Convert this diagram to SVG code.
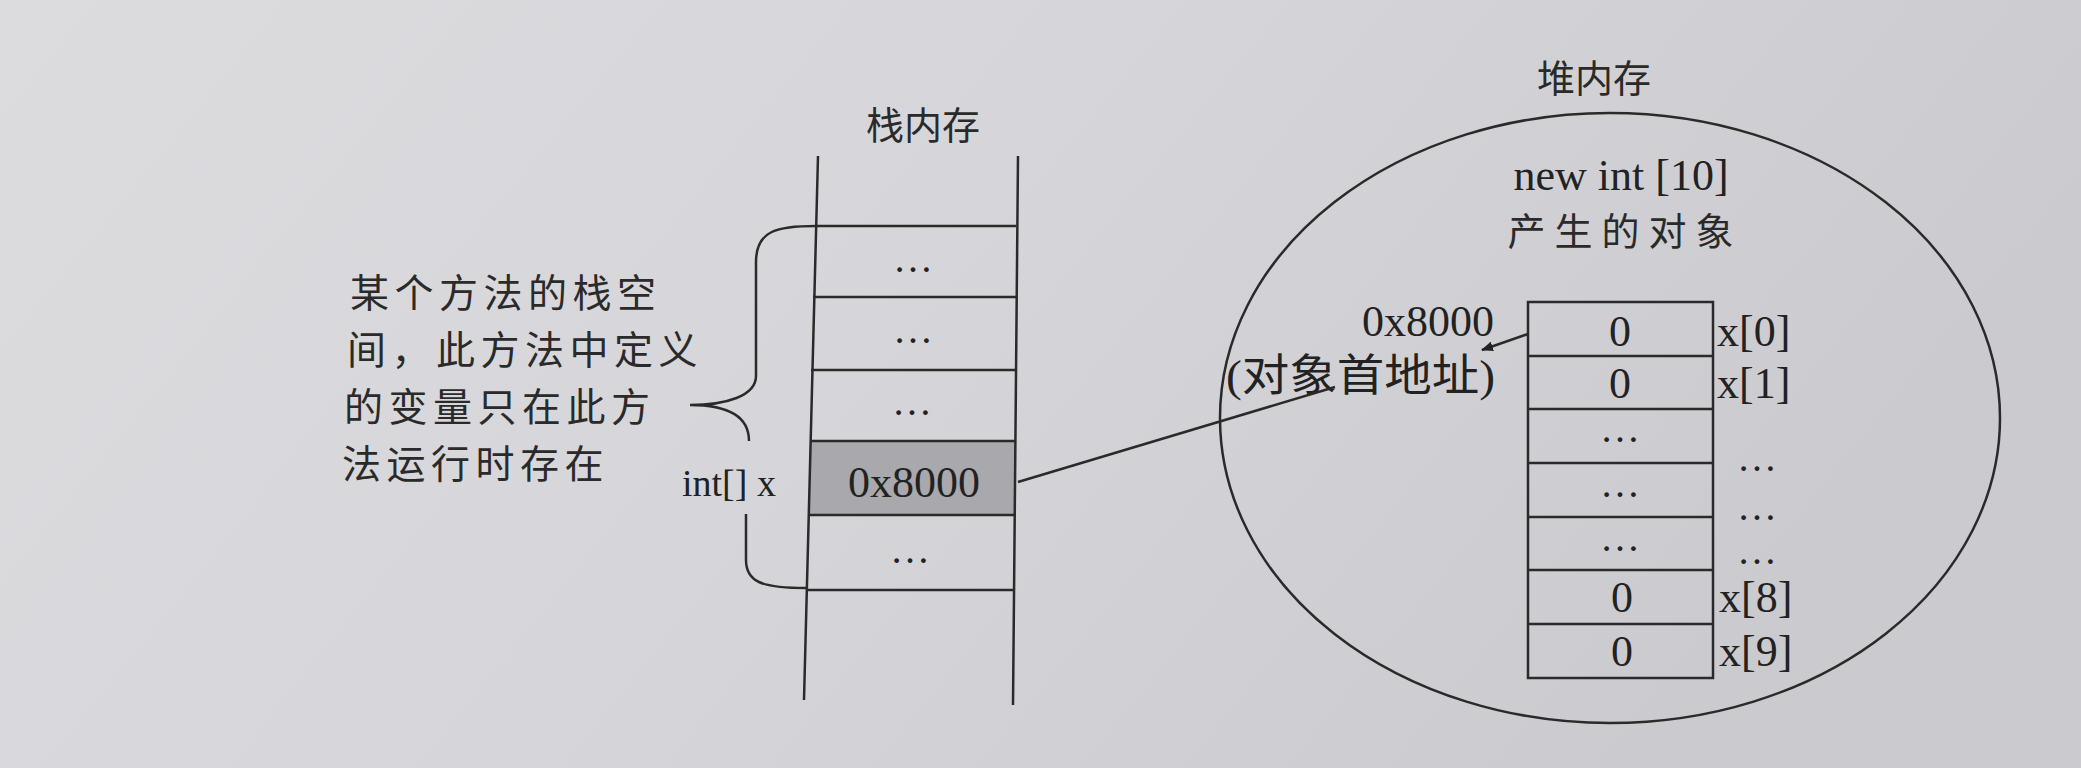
<svg xmlns="http://www.w3.org/2000/svg" width="2081" height="768" viewBox="0 0 2081 768">
<defs>
<linearGradient id="bg" x1="0" y1="0" x2="1" y2="0.3">
<stop offset="0" stop-color="#dcdcdf"/>
<stop offset="0.5" stop-color="#d6d6da"/>
<stop offset="1" stop-color="#cbcbcf"/>
</linearGradient>
<marker id="ah" viewBox="0 0 12 10" refX="11" refY="5" markerWidth="12" markerHeight="10" markerUnits="userSpaceOnUse" orient="auto">
<path d="M0,0 L12,5 L0,10 Z" fill="#222"/>
</marker>
<style>
.ln{stroke:#2a2a2a;stroke-width:2.5;fill:none}
.t{font-family:"Liberation Serif","Noto Sans CJK SC",serif;fill:#222}
.c{font-family:"Noto Sans CJK SC","Liberation Sans",sans-serif;fill:#2a2a2a}
.m{text-anchor:middle}
</style>
</defs>
<rect width="2081" height="768" fill="url(#bg)"/>

<g id="stack">
<text class="c m" x="923" y="139" font-size="38">栈内存</text>
<polygon points="810.7,441 1015.4,441 1014.7,515 808.8,515" fill="#a9a9ad"/>
<path class="ln" d="M818,156 L804,700 M1018,156 L1013,705"/>
<path class="ln" d="M816,226 L1016,226 M813,297 L1016,297 M811,370 L1016,370 M810,441 L1015,441 M808,515 L1015,515 M806,590 L1014,590"/>
<text class="t m" x="913" y="272" font-size="40">…</text>
<text class="t m" x="913" y="343" font-size="40">…</text>
<text class="t m" x="912" y="415" font-size="40">…</text>
<text class="t m" x="914" y="497" font-size="44">0x8000</text>
<text class="t m" x="910" y="563" font-size="40">…</text>
</g>

<g id="brace">
<path class="ln" d="M816,226 C778,226 756,230 756,262 L756,376 C756,396 726,405 690,405 C724,405 749,414 749,441"/>
<path class="ln" d="M746,514 L746,560 C746,582 762,588 806,588"/>
</g>

<g id="note">
<text class="c" font-size="39" letter-spacing="5.5"><tspan x="350" y="307">某个方法的栈空</tspan><tspan x="347" y="364">间，此方法中定义</tspan><tspan x="344" y="421">的变量只在此方</tspan><tspan x="342" y="478">法运行时存在</tspan></text>
</g>

<g id="var">
<text class="t" x="682" y="496" font-size="38">int[] x</text>
</g>

<g id="heap">
<text class="c m" x="1594" y="92" font-size="38">堆内存</text>
<ellipse class="ln" cx="1610" cy="418" rx="390" ry="305"/>
<text class="t m" x="1621" y="190" font-size="44">new int [10]</text>
<text class="c m" x="1625" y="245" font-size="38" letter-spacing="9">产生的对象</text>
</g>

<g id="array">
<rect class="ln" x="1528" y="302" width="185" height="376"/>
<path class="ln" d="M1528,356 L1713,356 M1528,409 L1713,409 M1528,463 L1713,463 M1528,517 L1713,517 M1528,570 L1713,570 M1528,624 L1713,624"/>
<text class="t m" x="1620" y="346" font-size="44">0</text>
<text class="t m" x="1620" y="398" font-size="44">0</text>
<text class="t m" x="1620" y="442" font-size="40">…</text>
<text class="t m" x="1620" y="497" font-size="40">…</text>
<text class="t m" x="1620" y="551" font-size="40">…</text>
<text class="t m" x="1622" y="612" font-size="44">0</text>
<text class="t m" x="1622" y="666" font-size="44">0</text>
<text class="t" x="1717" y="346" font-size="44">x[0]</text>
<text class="t" x="1717" y="398" font-size="44">x[1]</text>
<text class="t m" x="1757" y="471" font-size="40">…</text>
<text class="t m" x="1757" y="520" font-size="40">…</text>
<text class="t m" x="1757" y="564" font-size="40">…</text>
<text class="t" x="1719" y="612" font-size="44">x[8]</text>
<text class="t" x="1719" y="666" font-size="44">x[9]</text>
</g>

<g id="addr">
<text class="t" x="1362" y="336" font-size="44">0x8000</text>
<text class="t" x="1226" y="391" font-size="44" textLength="269" lengthAdjust="spacingAndGlyphs">(对象首地址)</text>
</g>

<g id="connectors">
<path class="ln" d="M1018,482 L1335,387"/>
<path class="ln" d="M1528,334 L1482,350" marker-end="url(#ah)"/>
</g>
</svg>
